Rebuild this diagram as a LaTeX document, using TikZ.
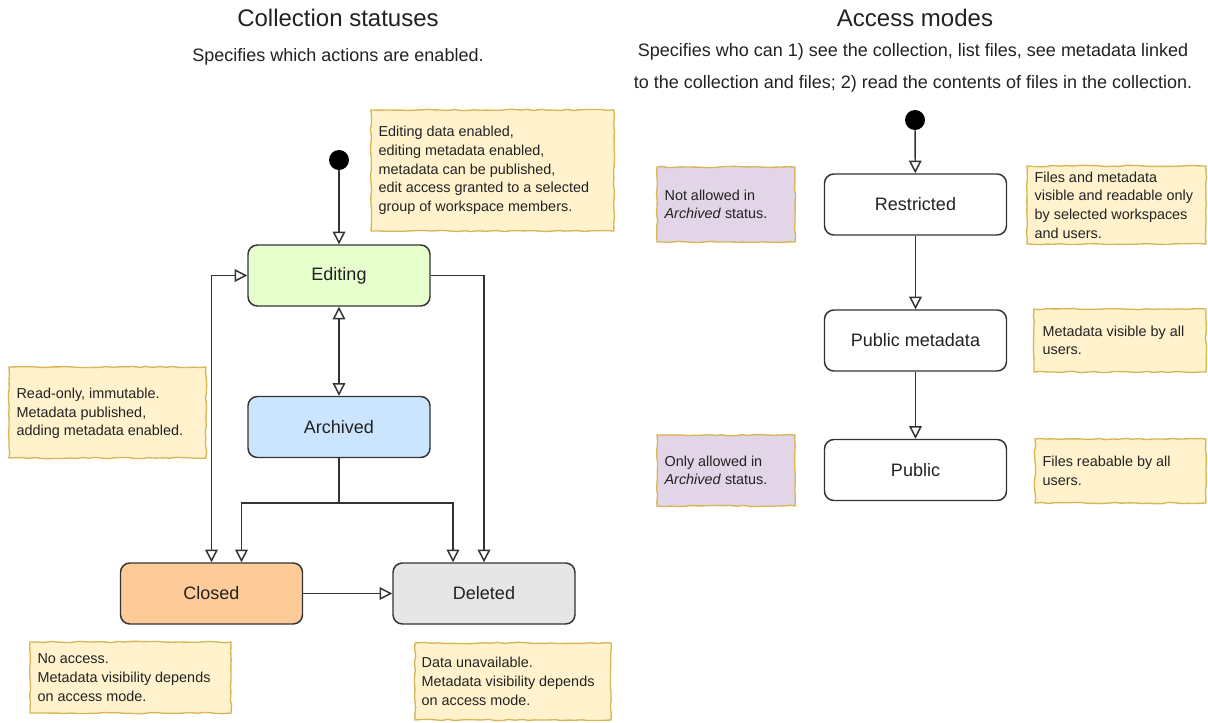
\documentclass[tikz,border=0pt]{standalone}
\usepackage{fontspec}
\setmainfont{Liberation Sans}
\usetikzlibrary{arrows.meta,decorations.pathmorphing,calc}

\definecolor{edgec}{HTML}{333333}
\definecolor{txtc}{HTML}{222222}
\definecolor{notefill}{HTML}{FFF2CC}
\definecolor{noteline}{HTML}{D6B656}
\definecolor{purplefill}{HTML}{E1D5E7}
\definecolor{editfill}{HTML}{E6FFCC}
\definecolor{archfill}{HTML}{CCE5FF}
\definecolor{closefill}{HTML}{FFCC99}
\definecolor{delfill}{HTML}{E6E6E6}

\tikzset{
  boxsize/.style 2 args={minimum width=#1*0.75pt, minimum height=#2*0.75pt},
  state/.style={draw=edgec, line width=1.1pt, rounded corners=7pt,
    boxsize={182}{61}, inner sep=0pt, text=txtc,
    font=\fontsize{13.5}{16}\selectfont},
  notebox/.style={draw=noteline, fill=notefill, line width=1pt, inner sep=0pt,
    decorate, decoration={random steps, segment length=5pt, amplitude=0.5pt}},
  purplebox/.style={notebox, fill=purplefill},
  notetext/.style={anchor=west, align=left, inner sep=0pt, text=txtc,
    font=\fontsize{10.8}{14}\selectfont},
  title/.style={inner sep=0pt, text=txtc, font=\fontsize{18}{22}\selectfont},
  subtitle/.style={inner sep=0pt, text=txtc, align=center,
    font=\fontsize{13.5}{24}\selectfont},
  initial/.style={circle, fill=black, minimum size=15pt, inner sep=0pt},
  opentip/.style={Triangle[open, length=9.5pt, width=9.5pt, fill=white]},
  conn/.style={draw=edgec, line width=1.1pt, -{Triangle[open, length=9.5pt, width=9.5pt, fill=white]}},
  biconn/.style={draw=edgec, line width=1.1pt,
    {Triangle[open, length=9.5pt, width=9.5pt, fill=white]}-{Triangle[open, length=9.5pt, width=9.5pt, fill=white]}},
}

\begin{document}
\pgfmathsetseed{11}
\begin{tikzpicture}[x=0.75pt, y=-0.75pt]
  \useasboundingbox[fill=white] (0,0) rectangle (1208,722);

  % ---------- headings ----------
  \node[title] (t1) at (338,18) {Collection statuses};
  \node[subtitle] (s1) at (338,57) {Specifies which actions are enabled.};
  \node[title] (t2) at (915,18) {Access modes};
  \node[subtitle] (s2) at (913,68) {Specifies who can 1) see the collection, list files, see metadata linked\\
    to the collection and files; 2) read the contents of files in the collection.};

  % ---------- collection statuses ----------
  \node[initial] (init1) at (339,160) {};
  \node[state, fill=editfill] (ed) at (339,275.5) {Editing};
  \node[state, fill=archfill] (ar) at (339,427) {Archived};
  \node[state, fill=closefill] (cl) at (211.5,593.5) {Closed};
  \node[state, fill=delfill] (de) at (484,593.5) {Deleted};
  \coordinate (split) at (339,503);

  \draw[conn] (init1) -- (ed);
  \draw[biconn] (ed) -- (ar);
  \draw[biconn] (ed.west) -| (cl.north);
  \draw[conn] (ar.south) -- (split) -| ($(cl.north)+(30,0)$);
  \draw[conn] (split) -| ($(de.north)+(-31,0)$);
  \draw[conn] (ed.east) -| (de.north);
  \draw[conn] (cl.east) -- (de.west);

  % notes on the statuses
  \node[notebox, boxsize={243}{121}] (nEd) at (492.5,170.5) {};
  \node[notetext] (nEdT) at ($(nEd.west)+(8,0)$) {Editing data enabled,\\
    editing metadata enabled,\\ metadata can be published,\\
    edit access granted to a selected\\ group of workspace members.};

  \node[notebox, boxsize={197}{91}] (nAr) at (107.5,412.5) {};
  \node[notetext] (nArT) at ($(nAr.west)+(8,1)$) {Read-only, immutable.\\
    Metadata published,\\ adding metadata enabled.};

  \node[notebox, boxsize={201}{71}] (nCl) at (130.5,677.5) {};
  \node[notetext] (nClT) at ($(nCl.west)+(8,0)$) {No access.\\
    Metadata visibility depends\\ on access mode.};

  \node[notebox, boxsize={196}{77}] (nDe) at (513,681.5) {};
  \node[notetext] (nDeT) at ($(nDe.west)+(7,0)$) {Data unavailable.\\
    Metadata visibility depends\\ on access mode.};

  % ---------- access modes ----------
  \node[initial] (init2) at (915,120) {};
  \node[state, fill=white] (re) at (915.5,204.5) {Restricted};
  \node[state, fill=white] (pm) at (915.5,340.5) {Public metadata};
  \node[state, fill=white] (pu) at (915.5,470) {Public};

  \draw[conn] (init2) -- (re);
  \draw[conn] (re) -- (pm);
  \draw[conn] (pm) -- (pu);

  % notes on the access modes
  \node[purplebox, boxsize={138}{75}] (nRe1) at (726,204.5) {};
  \node[notetext] (nRe1T) at ($(nRe1.west)+(8,0)$) {Not allowed in\\ \textit{Archived} status.};

  \node[notebox, boxsize={179}{78}] (nRe2) at (1116.5,205) {};
  \node[notetext] (nRe2T) at ($(nRe2.west)+(8,0)$) {Files and metadata\\
    visible and readable only\\ by selected workspaces\\ and users.};

  \node[notebox, boxsize={172}{63}] (nPm) at (1120,340.5) {};
  \node[notetext] (nPmT) at ($(nPm.west)+(9,0)$) {Metadata visible by all\\ users.};

  \node[purplebox, boxsize={138}{71}] (nPu1) at (726,470.5) {};
  \node[notetext] (nPu1T) at ($(nPu1.west)+(8,0)$) {Only allowed in\\ \textit{Archived} status.};

  \node[notebox, boxsize={171}{64}] (nPu2) at (1120.5,471) {};
  \node[notetext] (nPu2T) at ($(nPu2.west)+(8,0)$) {Files reabable by all\\ users.};
\end{tikzpicture}
\end{document}
